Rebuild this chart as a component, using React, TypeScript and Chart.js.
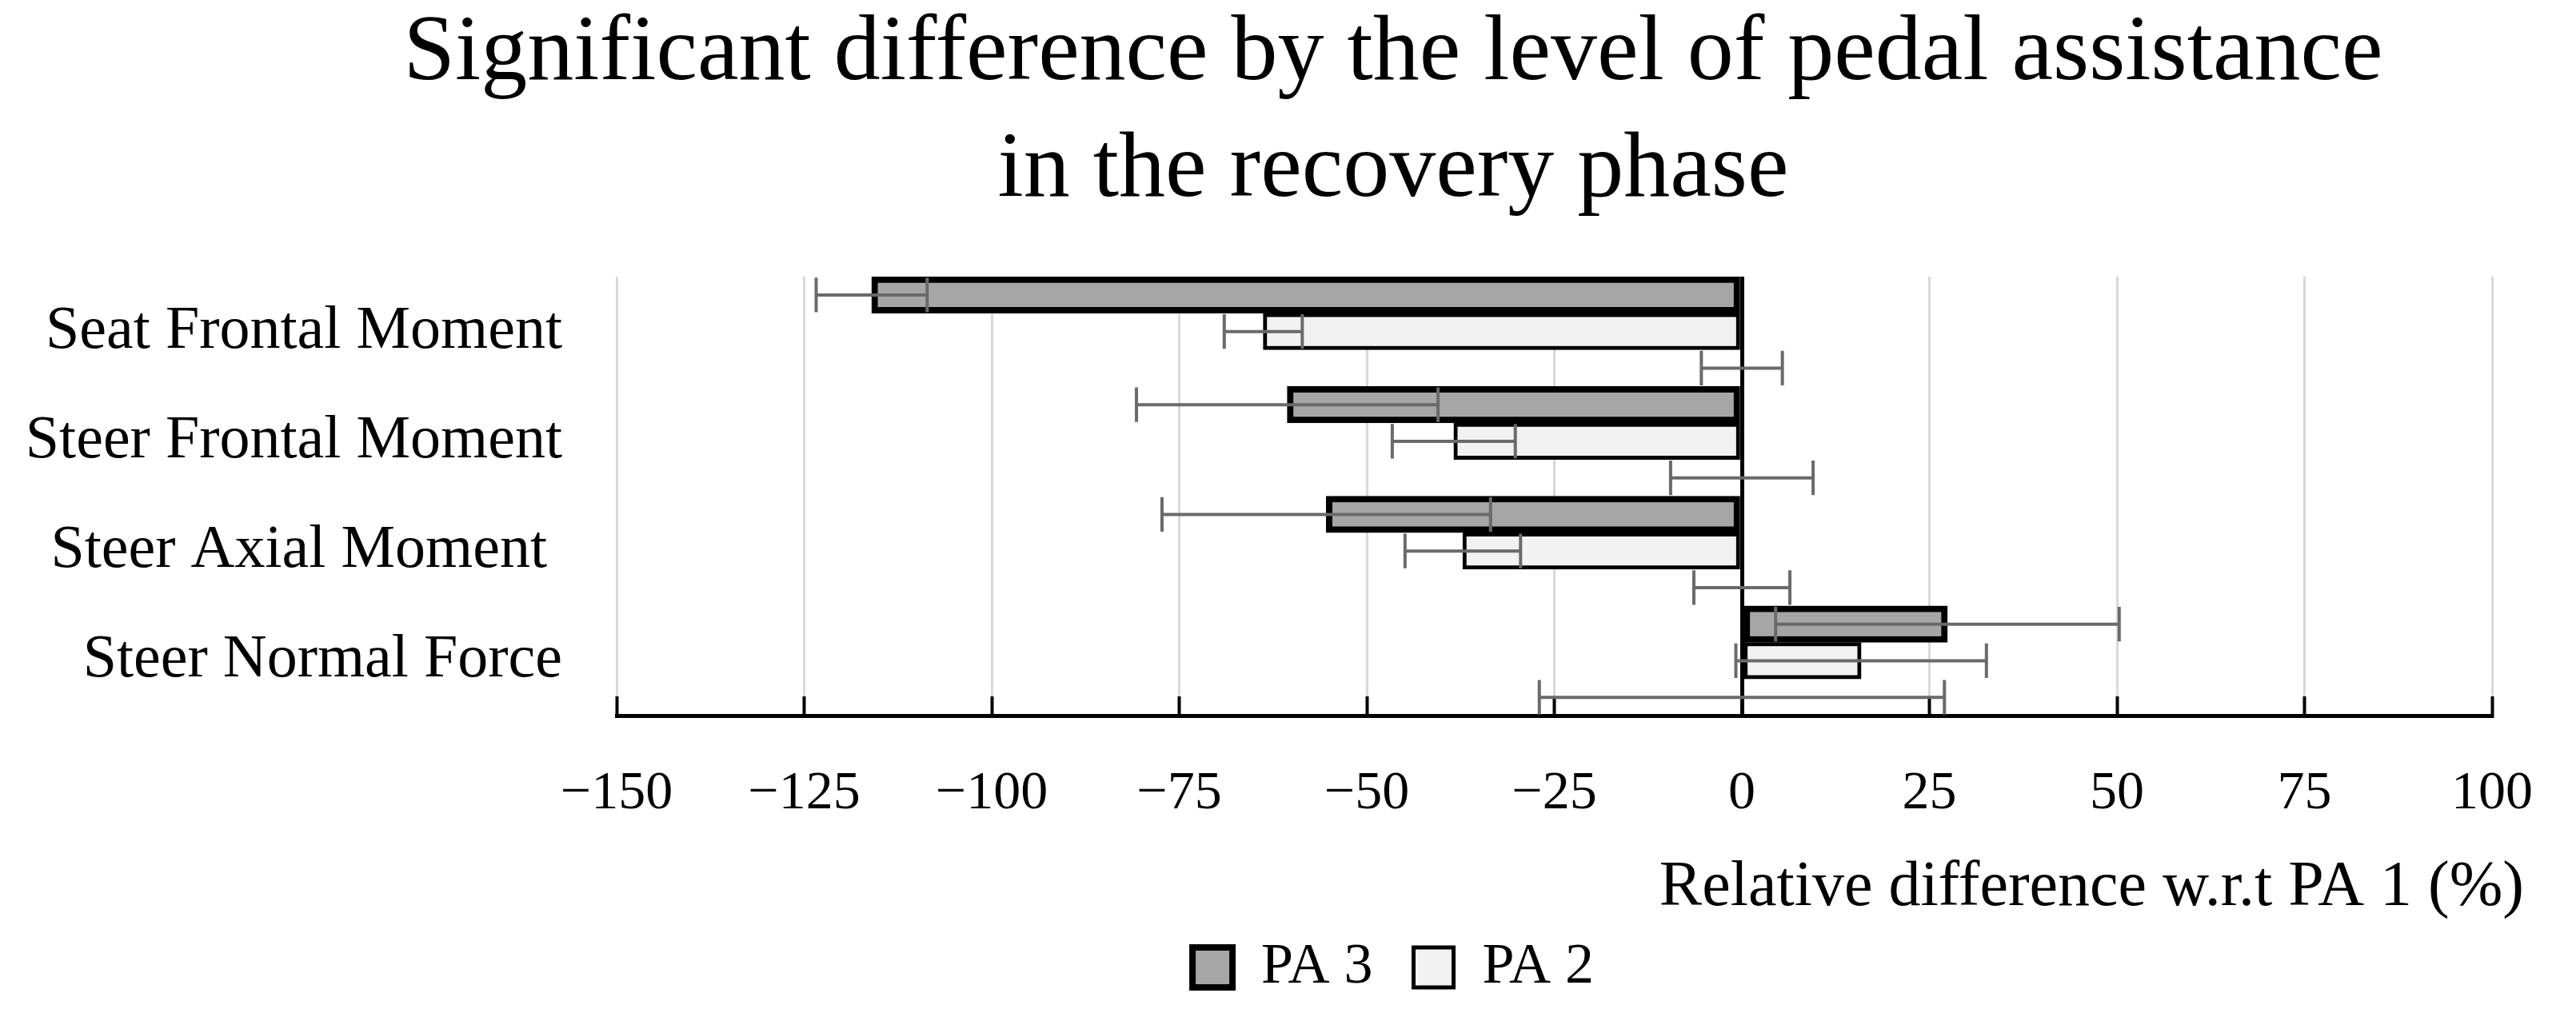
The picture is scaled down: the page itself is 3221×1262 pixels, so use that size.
import React, { useEffect, useRef } from "react";
import { Chart, registerables } from "chart.js";

Chart.register(...registerables);

const FONT = "'Liberation Serif', 'DejaVu Serif', serif";

const categories = [
  "Seat Frontal Moment",
  "Steer Frontal Moment",
  "Steer Axial Moment ",
  "Steer Normal Force",
];
const seriesNames = ["PA 3", "PA 2", "PA 1"];
const pa3Values = [-116, -60.6, -55.4, 27.4];
const pa3Errors = [7.4, 20.1, 21.9, 22.9];
const pa2Values = [-63.8, -38.4, -37.2, 15.9];
const pa2Errors = [5.2, 8.2, 7.7, 16.7];
const pa1Values = [0, 0, 0, 0];
const pa1Errors = [5.4, 9.5, 6.4, 27];
const xTicks = [-150, -125, -100, -75, -50, -25, 0, 25, 50, 75, 100];
const titleLines = [
  "Significant difference by the level of pedal assistance",
  "in the recovery phase",
];
const xAxisTitle = "Relative difference w.r.t PA 1 (%)";

const Y_LABEL_SIZE = 76;
const Y_LABEL_GAP = 68;

const errorBarPlugin = {
  id: "errorBars",
  afterDatasetsDraw(chart: any) {
    const ctx = chart.ctx;
    const xScale = chart.scales.x;
    chart.data.datasets.forEach((ds: any, di: number) => {
      const meta = chart.getDatasetMeta(di);
      if (!meta || meta.hidden) return;
      const errs: number[] = ds.errors || [];
      meta.data.forEach((bar: any, i: number) => {
        const v = ds.data[i];
        const e = errs[i];
        if (e == null) return;
        const { y, height } = bar.getProps(["y", "height"], true);
        const xl = xScale.getPixelForValue(v - e);
        const xr = xScale.getPixelForValue(v + e);
        const half = Math.abs(height) * 0.47;
        ctx.save();
        ctx.strokeStyle = "#6a6a6a";
        ctx.lineWidth = 4;
        ctx.lineCap = "butt";
        ctx.beginPath();
        ctx.moveTo(xl, y);
        ctx.lineTo(xr, y);
        ctx.moveTo(xl, y - half);
        ctx.lineTo(xl, y + half);
        ctx.moveTo(xr, y - half);
        ctx.lineTo(xr, y + half);
        ctx.stroke();
        ctx.restore();
      });
    });
  },
};

export default function App() {
  const ref = useRef<HTMLCanvasElement>(null);

  useEffect(() => {
    if (!ref.current) return;
    Chart.defaults.font.family = FONT;

    // widest category label, so mirrored labels can be right-aligned next to the plot
    const mc = document.createElement("canvas").getContext("2d")!;
    mc.font = `normal ${Y_LABEL_SIZE}px ${FONT}`;
    const widest = Math.max(...categories.map((c) => mc.measureText(c).width));

    const chart = new Chart(ref.current, {
      type: "bar",
      data: {
        labels: categories,
        datasets: [
          {
            label: seriesNames[0],
            data: pa3Values,
            errors: pa3Errors,
            backgroundColor: "#a6a6a6",
            borderColor: "#000000",
            borderWidth: 8,
            borderSkipped: false,
            xAxisID: "x",
            yAxisID: "y",
          } as any,
          {
            label: seriesNames[1],
            data: pa2Values,
            errors: pa2Errors,
            backgroundColor: "#f2f2f2",
            borderColor: "#000000",
            borderWidth: 5,
            borderSkipped: false,
            xAxisID: "x",
            yAxisID: "y",
          } as any,
          {
            label: seriesNames[2],
            data: pa1Values,
            errors: pa1Errors,
            backgroundColor: "rgba(0,0,0,0)",
            borderColor: "rgba(0,0,0,0)",
            borderWidth: 0,
            xAxisID: "x",
            yAxisID: "y",
          } as any,
        ],
      },
      options: {
        indexAxis: "y",
        animation: false,
        responsive: true,
        maintainAspectRatio: false,
        layout: { padding: { left: 320, right: 57, top: 0, bottom: 0 } },
        datasets: {
          bar: { barPercentage: 1, categoryPercentage: 1 },
        },
        plugins: {
          title: {
            display: true,
            text: titleLines,
            color: "#000",
            font: { family: FONT, size: 116, weight: "normal", lineHeight: 146 / 116 },
            padding: { top: -12, bottom: 58 },
          },
          subtitle: {
            display: true,
            position: "bottom",
            align: "end",
            text: xAxisTitle,
            color: "#000",
            font: { family: FONT, size: 80, weight: "normal", lineHeight: 0.3 },
            padding: { top: 0, bottom: 0 },
            weight: 1500,
          },
          legend: {
            display: true,
            position: "bottom",
            weight: 3000,
            maxHeight: 131,
            labels: {
              color: "#000",
              font: { family: FONT, size: 72 },
              boxWidth: 50,
              boxHeight: 50,
              padding: 51,
              filter: (item: any) => item.datasetIndex !== 2,
            },
          } as any,
          tooltip: { enabled: false },
        },
        scales: {
          x: {
            type: "linear",
            position: "bottom",
            min: xTicks[0],
            max: xTicks[xTicks.length - 1],
            ticks: {
              stepSize: xTicks[1] - xTicks[0],
              color: "#000",
              font: { family: FONT, size: 68, lineHeight: 3 },
              padding: 20,
              autoSkip: false,
              maxRotation: 0,
              callback: (v: any) => (Number(v) < 0 ? "\u2212" + Math.abs(Number(v)) : String(v)),
            },
            grid: {
              display: true,
              color: (c: any) => (c.tick && c.tick.value === 0 ? "#000000" : "#d9d9d9"),
              lineWidth: (c: any) => (c.tick && c.tick.value === 0 ? 5 : 3),
              drawTicks: true,
              tickLength: -24,
              tickColor: "#000000",
              tickWidth: 4,
            },
            border: { display: true, color: "#000000", width: 5 },
            afterFit: (s: any) => {
              s.height = 204;
            },
          },
          y: {
            type: "category",
            position: "left",
            ticks: {
              color: "#000",
              font: { family: FONT, size: Y_LABEL_SIZE },
              mirror: true,
              crossAlign: "far",
              padding: -Y_LABEL_GAP - widest,
            },
            grid: { display: false, drawTicks: false },
            border: { display: false },
            afterFit: (s: any) => {
              s.width = 443;
            },
          },
          yR: {
            type: "linear",
            position: "right",
            display: true,
            ticks: { display: false },
            grid: { display: false, drawTicks: false },
            border: { display: false },
            afterFit: (s: any) => {
              s.width = 40;
            },
          },
        },
      } as any,
      plugins: [errorBarPlugin],
    });
    return () => chart.destroy();
  }, []);

  return (
    <div style={{ position: "relative", width: "100%", height: "1246px" }}>
      <canvas ref={ref} />
    </div>
  );
}
